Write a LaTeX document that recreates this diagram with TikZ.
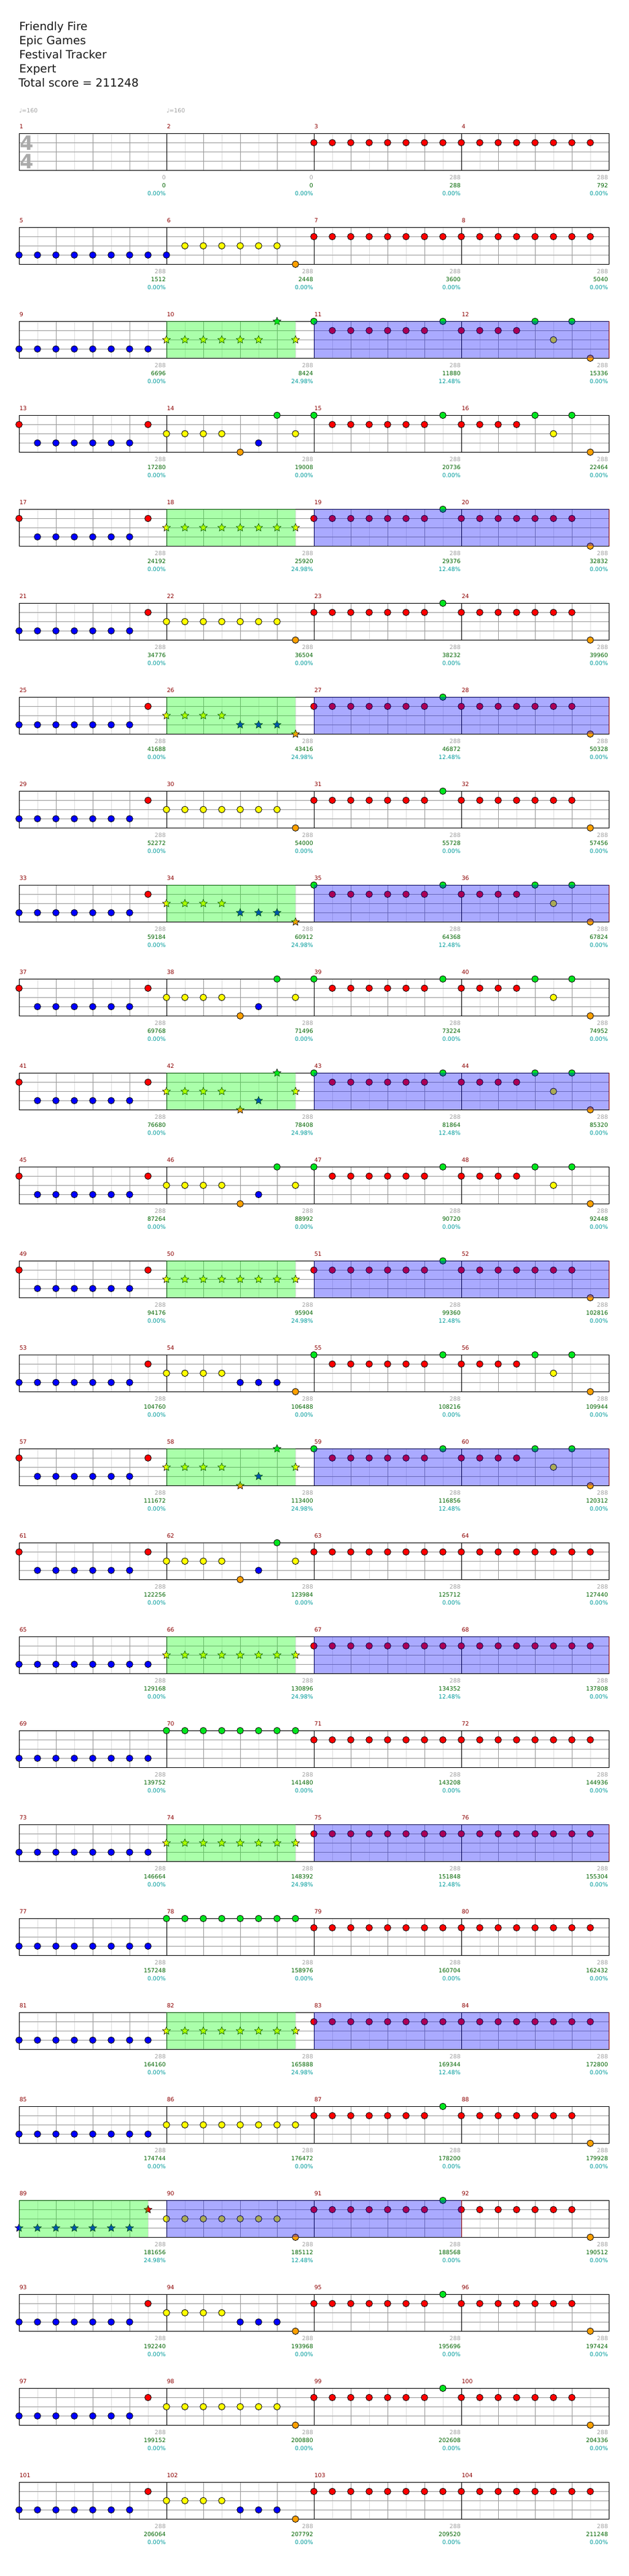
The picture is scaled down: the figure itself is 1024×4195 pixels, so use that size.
\documentclass[tikz,border=0pt]{standalone}
\usepackage{fontspec}
\setmainfont{DejaVu Sans}
\usepackage{tikz}
\usetikzlibrary{shapes.geometric}

\definecolor{gemgreen}{RGB}{0,230,30}
\definecolor{gemred}{RGB}{255,0,0}
\definecolor{gemyellow}{RGB}{255,255,0}
\definecolor{gemblue}{RGB}{0,0,255}
\definecolor{gemorange}{RGB}{255,160,0}
\definecolor{barred}{RGB}{140,0,0}
\definecolor{scoregreen}{RGB}{0,100,0}
\definecolor{pctteal}{RGB}{0,155,155}
\definecolor{labelgray}{RGB}{160,160,160}
\definecolor{gridgray}{RGB}{155,155,155}
\definecolor{gridlight}{RGB}{222,222,222}
\definecolor{sigray}{RGB}{170,170,170}

\tikzset{
  gem/.style={circle,draw=black,line width=0.6pt,inner sep=0pt,minimum size=8pt},
  spstar/.style={star,star points=5,star point ratio=2.2,draw=black,line width=0.45pt,inner sep=0pt,minimum size=10pt},
  lane G/.style={gem,fill=gemgreen},
  lane R/.style={gem,fill=gemred,yshift=-11.25pt},
  lane Y/.style={gem,fill=gemyellow,yshift=-22.5pt},
  lane B/.style={gem,fill=gemblue,yshift=-33.75pt},
  lane O/.style={gem,fill=gemorange,yshift=-45pt},
  lane g/.style={spstar,fill=gemgreen},
  lane r/.style={spstar,fill=gemred,yshift=-11.25pt},
  lane y/.style={spstar,fill=gemyellow,yshift=-22.5pt},
  lane b/.style={spstar,fill=gemblue,yshift=-33.75pt},
  lane o/.style={spstar,fill=gemorange,yshift=-45pt},
  titletext/.style={anchor=base west,inner sep=0pt,text=black!90,font=\fontsize{13.8}{16}\selectfont},
  tempo/.style={anchor=west,inner sep=0pt,text=labelgray,font=\fontsize{7}{8}\selectfont},
  timesig/.style={inner sep=0pt,text=sigray,font=\fontsize{24}{24}\selectfont\bfseries},
  barno/.style={anchor=west,inner sep=0pt,text=barred,font=\fontsize{7}{8}\selectfont},
  ptlabel/.style={anchor=east,inner sep=0pt,text=labelgray,font=\fontsize{7}{8}\selectfont},
  sclabel/.style={anchor=east,inner sep=0pt,text=scoregreen,font=\fontsize{7}{8}\selectfont},
  pclabel/.style={anchor=east,inner sep=0pt,text=pctteal,font=\fontsize{7}{8}\selectfont},
  gridthin/.style={draw=gridlight,line width=0.75pt},
  gridline/.style={draw=gridgray,line width=0.75pt},
  barline/.style={draw=black,line width=0.75pt},
  phrasezone/.style={fill=green,fill opacity=0.333},
  activezone/.style={fill=blue,fill opacity=0.333},
  activeend/.style={draw=red,opacity=0.55,line width=0.75pt}
}

% one gem per eighth, - = rest
\newcommand\putgem[2]{\ifx#2-\else\node[lane #2] (g\m-#1) at ({\xo+30*#1},\yo) {};\fi}
\newcommand\putbar[8]{\putgem0#1\putgem1#2\putgem2#3\putgem3#4\putgem4#5\putgem5#6\putgem6#7\putgem7#8}
\newcommand\pctof[1]{\if#1p24.98\else\if#1a12.48\else0.00\fi\fi\%}

% bar / gems / score / zone (n none, p phrase, a b active)
\newcommand\chartdata{
1/--------/0/n, 2/--------/0/n, 3/RRRRRRRR/288/n, 4/RRRRRRRR/792/n,
5/BBBBBBBB/1512/n, 6/BYYYYYYO/2448/n, 7/RRRRRRRR/3600/n, 8/RRRRRRRR/5040/n,
9/BBBBBBBB/6696/n, 10/yyyyyygy/8424/p, 11/GRRRRRRG/11880/a, 12/RRRRGYGO/15336/b,
13/RBBBBBBR/17280/n, 14/YYYYOBGY/19008/n, 15/GRRRRRRG/20736/n, 16/RRRRGYGO/22464/n,
17/RBBBBBBR/24192/n, 18/yyyyyyyy/25920/p, 19/RRRRRRRG/29376/a, 20/RRRRRRRO/32832/b,
21/BBBBBBBR/34776/n, 22/YYYYYYYO/36504/n, 23/RRRRRRRG/38232/n, 24/RRRRRRRO/39960/n,
25/BBBBBBBR/41688/n, 26/yyyybbbo/43416/p, 27/RRRRRRRG/46872/a, 28/RRRRRRRO/50328/b,
29/BBBBBBBR/52272/n, 30/YYYYYYYO/54000/n, 31/RRRRRRRG/55728/n, 32/RRRRRRRO/57456/n,
33/BBBBBBBR/59184/n, 34/yyyybbbo/60912/p, 35/GRRRRRRG/64368/a, 36/RRRRGYGO/67824/b,
37/RBBBBBBR/69768/n, 38/YYYYOBGY/71496/n, 39/GRRRRRRG/73224/n, 40/RRRRGYGO/74952/n,
41/RBBBBBBR/76680/n, 42/yyyyobgy/78408/p, 43/GRRRRRRG/81864/a, 44/RRRRGYGO/85320/b,
45/RBBBBBBR/87264/n, 46/YYYYOBGY/88992/n, 47/GRRRRRRG/90720/n, 48/RRRRGYGO/92448/n,
49/RBBBBBBR/94176/n, 50/yyyyyyyy/95904/p, 51/RRRRRRRG/99360/a, 52/RRRRRRRO/102816/b,
53/BBBBBBBR/104760/n, 54/YYYYBBBO/106488/n, 55/GRRRRRRG/108216/n, 56/RRRRGYGO/109944/n,
57/RBBBBBBR/111672/n, 58/yyyyobgy/113400/p, 59/GRRRRRRG/116856/a, 60/RRRRGYGO/120312/b,
61/RBBBBBBR/122256/n, 62/YYYYOBGY/123984/n, 63/RRRRRRRR/125712/n, 64/RRRRRRRR/127440/n,
65/BBBBBBBB/129168/n, 66/yyyyyyyy/130896/p, 67/RRRRRRRR/134352/a, 68/RRRRRRRR/137808/b,
69/BBBBBBBB/139752/n, 70/GGGGGGGG/141480/n, 71/RRRRRRRR/143208/n, 72/RRRRRRRR/144936/n,
73/BBBBBBBB/146664/n, 74/yyyyyyyy/148392/p, 75/RRRRRRRR/151848/a, 76/RRRRRRRR/155304/b,
77/BBBBBBBB/157248/n, 78/GGGGGGGG/158976/n, 79/RRRRRRRR/160704/n, 80/RRRRRRRR/162432/n,
81/BBBBBBBB/164160/n, 82/yyyyyyyy/165888/p, 83/RRRRRRRR/169344/a, 84/RRRRRRRR/172800/b,
85/BBBBBBBB/174744/n, 86/YYYYYYYY/176472/n, 87/RRRRRRRG/178200/n, 88/RRRRRRRO/179928/n,
89/bbbbbbbr/181656/p, 90/YYYYYYYO/185112/a, 91/RRRRRRRG/188568/b, 92/RRRRRRRO/190512/n,
93/BBBBBBBR/192240/n, 94/YYYYBBBO/193968/n, 95/RRRRRRRG/195696/n, 96/RRRRRRRO/197424/n,
97/BBBBBBBR/199152/n, 98/YYYYYYYO/200880/n, 99/RRRRRRRG/202608/n, 100/RRRRRRRO/204336/n,
101/BBBBBBBR/206064/n, 102/YYYYBBBO/207792/n, 103/RRRRRRRR/209520/n, 104/RRRRRRRR/211248/n}

\begin{document}
\begin{tikzpicture}[x=0.75pt,y=-0.75pt]
\useasboundingbox (0,0) rectangle (1024,4195);

\node[titletext] (song) at (31,49) {Friendly Fire};
\node[titletext] (artist) at (31,72) {Epic Games};
\node[titletext] (source) at (31,95) {Festival Tracker};
\node[titletext] (level) at (31,118) {Expert};
\node[titletext] (total) at (30,141) {Total score = 211248};

\node[tempo] (bpm1) at (31,180) {♩=160};
\node[tempo] (bpm2) at (271,180) {♩=160};

% staves
\foreach \r in {0,...,25} {
  \pgfmathsetmacro\yo{217.3+153*\r}
  \foreach \k in {1,3,...,31} \draw[gridthin] (31+30*\k,\yo) -- ++(0,60);
  \foreach \k in {2,4,...,30} \draw[gridline] (31+30*\k,\yo) -- ++(0,60);
  \foreach \k in {15,30,45} \draw[gridline] (31,\yo+\k) -- ++(960,0);
  \foreach \k in {8,16,24} \draw[barline] (31+30*\k,\yo) -- ++(0,60);
  \draw[barline] (31,\yo) rectangle ++(960,60);
}

\node[timesig] (sigtop) at (44,233) {4};
\node[timesig] (sigbot) at (44,262.5) {4};

% gems and labels
\foreach \m/\pat/\score/\zone in \chartdata {
  \pgfmathtruncatemacro\barrow{(\m-1)/4}
  \pgfmathtruncatemacro\barcol{\m-1-4*\barrow}
  \pgfmathsetmacro\xo{31+240*\barcol}
  \pgfmathsetmacro\yo{217.3+153*\barrow}
  \expandafter\putbar\pat
  \node[barno] (n\m) at (\xo+0.5,\yo-11) {\m};
  \node[ptlabel] (p\m) at (\xo+239,\yo+72) {\ifnum\m<3 0\else288\fi};
  \node[sclabel] (s\m) at (\xo+239,\yo+85) {\score};
  \node[pclabel] (c\m) at (\xo+239,\yo+98) {\pctof\zone};
}

% star power zones
\foreach \m/\pat/\score/\zone in \chartdata {
  \pgfmathtruncatemacro\barrow{(\m-1)/4}
  \pgfmathtruncatemacro\barcol{\m-1-4*\barrow}
  \pgfmathsetmacro\xo{31+240*\barcol}
  \pgfmathsetmacro\yo{217.3+153*\barrow}
  \if\zone p\fill[phrasezone] (\xo,\yo) rectangle ++(210,60);\fi
  \if\zone a\fill[activezone] (\xo,\yo) rectangle ++(240,60);\fi
  \if\zone b\fill[activezone] (\xo,\yo) rectangle ++(240,60);
    \draw[activeend] (\xo+240,\yo) -- ++(0,60);\fi
}

\end{tikzpicture}
\end{document}
